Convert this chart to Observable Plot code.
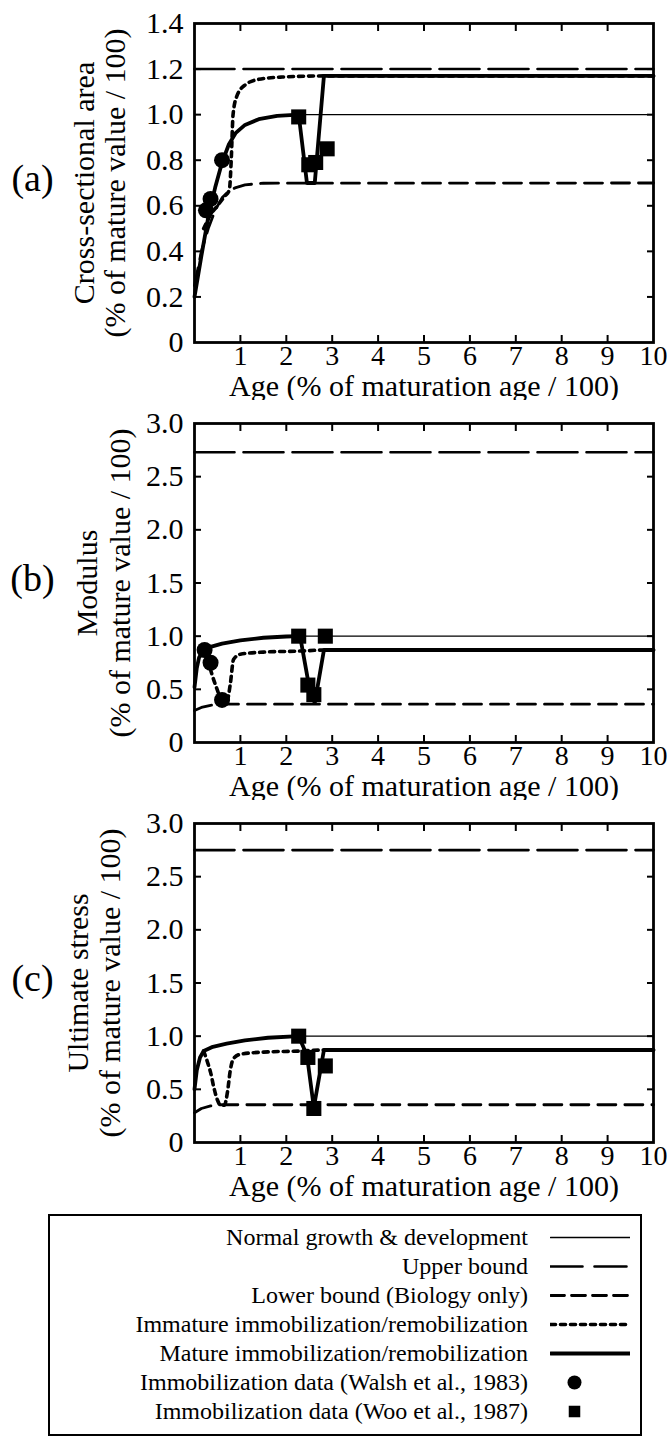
<!DOCTYPE html>
<html>
<head>
<meta charset="utf-8">
<script src="https://cdn.jsdelivr.net/npm/d3@7"></script>
<script src="https://cdn.jsdelivr.net/npm/@observablehq/plot@0.6"></script>
<style>
  html, body { margin: 0; padding: 0; background: #fff; }
  body { width: 667px; font-family: "Liberation Serif", "Times New Roman", serif; color: #000; }
  .panel { position: relative; width: 667px; height: 400px; }
  .panel svg { display: block; font-family: "Liberation Serif", serif; }
  #legend { position: relative; margin-left: 48px; margin-top: 14px; width: 594px; height: 222px; border: 2px solid #000; box-sizing: border-box; }
  .lrow { position: absolute; left: 0; width: 100%; height: 26px; }
  .lrow .lab { position: absolute; right: 112px; top: 0; font-size: 24px; line-height: 26px; white-space: nowrap; text-align: right; }
  .lrow svg { position: absolute; left: 500px; top: 0; }
</style>
</head>
<body>
<div id="chart"></div>
<div id="legend"></div>
<script>
// ---------- data ----------
const xTicks = [1, 2, 3, 4, 5, 6, 7, 8, 9];
const xTickLabels = [1, 2, 3, 4, 5, 6, 7, 8, 9, 10];
const ageTitle = "Age (% of maturation age / 100)";

// (a) Cross-sectional area
const aTicks = [0, 0.2, 0.4, 0.6, 0.8, 1.0, 1.2, 1.4];
const aNormalX = [0, 0.15, 0.3, 0.45, 0.6, 0.75, 0.9, 1.1, 1.4, 1.8, 2.27, 10];
const aNormalY = [0.2, 0.38, 0.55, 0.68, 0.79, 0.87, 0.92, 0.955, 0.98, 0.995, 1.0, 1.0];
const aUpperX = [0, 10];
const aUpperY = [1.2, 1.2];
const aLowerX = [0, 0.15, 0.3, 0.45, 0.6, 0.75, 0.9, 1.1, 1.5, 10];
const aLowerY = [0.25, 0.4, 0.5, 0.58, 0.635, 0.665, 0.68, 0.692, 0.699, 0.7];
const aImmX = [0.2, 0.35, 0.5, 0.65, 0.76, 0.8, 0.84, 0.92, 1.1, 1.4, 1.9, 2.85, 10];
const aImmY = [0.5, 0.56, 0.6, 0.64, 0.67, 0.8, 1.0, 1.08, 1.13, 1.155, 1.165, 1.17, 1.17];
const aMatX = [0, 0.15, 0.3, 0.45, 0.6, 0.75, 0.9, 1.1, 1.4, 1.8, 2.27, 2.45, 2.62, 2.82, 10];
const aMatY = [0.2, 0.38, 0.55, 0.68, 0.79, 0.87, 0.92, 0.955, 0.98, 0.995, 1.0, 0.7, 0.7, 1.17, 1.17];
const aWalshX = [0.25, 0.35, 0.6];
const aWalshY = [0.58, 0.63, 0.8];
const aWooX = [2.27, 2.49, 2.64, 2.89];
const aWooY = [0.99, 0.78, 0.79, 0.85];

// (b) Modulus
const bTicks = [0, 0.5, 1.0, 1.5, 2.0, 2.5, 3.0];
const bNormalX = [0, 0.05, 0.1, 0.2, 0.35, 0.6, 1.0, 1.5, 2.0, 2.3, 10];
const bNormalY = [0.52, 0.7, 0.8, 0.87, 0.9, 0.93, 0.96, 0.985, 0.997, 1.0, 1.0];
const bUpperX = [0, 10];
const bUpperY = [2.73, 2.73];
const bLowerX = [0, 0.15, 0.35, 0.6, 10];
const bLowerY = [0.3, 0.33, 0.35, 0.36, 0.36];
const bImmX = [0.2, 0.3, 0.45, 0.6, 0.7, 0.78, 0.85, 1.0, 1.5, 2.3, 2.85, 10];
const bImmY = [0.87, 0.75, 0.55, 0.4, 0.38, 0.55, 0.78, 0.83, 0.85, 0.86, 0.87, 0.87];
const bMatX = [0, 0.05, 0.1, 0.2, 0.35, 0.6, 1.0, 1.5, 2.0, 2.3, 2.5, 2.62, 2.82, 10];
const bMatY = [0.52, 0.7, 0.8, 0.87, 0.9, 0.93, 0.96, 0.985, 0.997, 1.0, 0.52, 0.37, 0.87, 0.87];
const bWalshX = [0.22, 0.35, 0.6];
const bWalshY = [0.87, 0.75, 0.4];
const bWooX = [2.27, 2.47, 2.6, 2.85];
const bWooY = [1.0, 0.54, 0.45, 1.0];

// (c) Ultimate stress
const cTicks = [0, 0.5, 1.0, 1.5, 2.0, 2.5, 3.0];
const cNormalX = [0, 0.05, 0.12, 0.2, 0.4, 0.7, 1.1, 1.6, 2.27, 10];
const cNormalY = [0.5, 0.68, 0.8, 0.86, 0.9, 0.93, 0.96, 0.985, 1.0, 1.0];
const cUpperX = [0, 10];
const cUpperY = [2.75, 2.75];
const cLowerX = [0, 0.15, 0.35, 0.6, 10];
const cLowerY = [0.28, 0.32, 0.345, 0.355, 0.355];
const cImmX = [0.2, 0.28, 0.35, 0.42, 0.5, 0.57, 0.65, 0.72, 0.78, 0.85, 1.0, 1.5, 2.3, 2.8, 10];
const cImmY = [0.86, 0.76, 0.66, 0.52, 0.4, 0.35, 0.35, 0.48, 0.68, 0.79, 0.83, 0.85, 0.86, 0.87, 0.87];
const cMatX = [0, 0.05, 0.12, 0.2, 0.4, 0.7, 1.1, 1.6, 2.27, 2.45, 2.6, 2.82, 10];
const cMatY = [0.5, 0.68, 0.8, 0.86, 0.9, 0.93, 0.96, 0.985, 1.0, 0.82, 0.33, 0.87, 0.87];
const cWooX = [2.27, 2.47, 2.6, 2.85];
const cWooY = [1.0, 0.8, 0.32, 0.72];

const legendLabels = [
  "Normal growth & development",
  "Upper bound",
  "Lower bound (Biology only)",
  "Immature immobilization/remobilization",
  "Mature immobilization/remobilization",
  "Immobilization data (Walsh et al., 1983)",
  "Immobilization data (Woo et al., 1987)"
];

// ---------- styles ----------
const FONT = "Liberation Serif, Times New Roman, serif";
const S = {
  normal: {strokeWidth: 1.3},
  upper: {strokeWidth: 2.6, strokeDasharray: "40,9"},
  lower: {strokeWidth: 2.8, strokeDasharray: "18,9"},
  imm: {strokeWidth: 3.6, strokeDasharray: "5,5"},
  mat: {strokeWidth: 3.8}
};

const zip = (xs, ys) => xs.map((x, i) => ({x, y: ys[i]}));

function panel(cfg) {
  const W = 667, H = 400;
  const T = {fontFamily: FONT, fill: "#000"};
  const marks = [
    Plot.line(zip(cfg.upperX, cfg.upperY), {x: "x", y: "y", stroke: "#000", ...S.upper}),
    Plot.line(zip(cfg.lowerX, cfg.lowerY), {x: "x", y: "y", stroke: "#000", ...S.lower}),
    Plot.line(zip(cfg.normalX, cfg.normalY), {x: "x", y: "y", stroke: "#000", ...S.normal}),
    Plot.line(zip(cfg.immX, cfg.immY), {x: "x", y: "y", stroke: "#000", curve: "monotone-x", ...S.imm}),
    Plot.line(zip(cfg.matX, cfg.matY), {x: "x", y: "y", stroke: "#000", strokeLinejoin: "round", ...S.mat}),
    cfg.walshX ? Plot.dot(zip(cfg.walshX, cfg.walshY), {x: "x", y: "y", r: 8, fill: "#000", stroke: "none"}) : null,
    Plot.dot(zip(cfg.wooX, cfg.wooY), {x: "x", y: "y", symbol: "square", r: 8.5, fill: "#000", stroke: "none"}),
    // axes: labels
    Plot.axisX(xTickLabels, {anchor: "bottom", tickSize: 0, tickPadding: 3, fontSize: 28, fontFamily: FONT, label: null, tickFormat: d => String(d), stroke: "none", fill: "#000"}),
    Plot.axisY(cfg.yTicks, {anchor: "left", tickSize: 0, tickPadding: 11, fontSize: 30, fontFamily: FONT, label: null, tickFormat: cfg.fmt, stroke: "none", fill: "#000"}),
    // inward ticks on all four sides
    Plot.axisX(xTicks, {anchor: "bottom", tickSize: -7, strokeWidth: 2, fill: "none", label: null}),
    Plot.axisX(xTicks, {anchor: "top", tickSize: -7, strokeWidth: 2, fill: "none", label: null}),
    Plot.axisY(cfg.yTicks.slice(1, -1), {anchor: "left", tickSize: -7, strokeWidth: 2, fill: "none", label: null}),
    Plot.axisY(cfg.yTicks.slice(1, -1), {anchor: "right", tickSize: -7, strokeWidth: 2, fill: "none", label: null}),
    Plot.frame({stroke: "#000", strokeWidth: 2.8}),
    // titles
    Plot.text([ageTitle], {frameAnchor: "bottom", dy: 53, fontSize: 30, textAnchor: "middle", text: d => d, ...T}),
    Plot.text([cfg.ylab1], {frameAnchor: "left", dx: -cfg.lx1, rotate: -90, textAnchor: "middle", fontSize: 30, text: d => d, ...T}),
    Plot.text([cfg.ylab2], {frameAnchor: "left", dx: -cfg.lx2, rotate: -90, textAnchor: "middle", fontSize: 30, text: d => d, ...T}),
    Plot.text([cfg.tag], {frameAnchor: "left", dx: -162, dy: -4, textAnchor: "middle", fontSize: 38, text: d => d, ...T})
  ].filter(Boolean);
  return Plot.plot({
    width: W, height: H,
    marginLeft: 194, marginRight: 14, marginTop: 23, marginBottom: 58,
    style: {fontFamily: FONT, color: "#000", background: "#fff", overflow: "visible"},
    x: {domain: [0, 10]},
    y: {domain: cfg.yDomain},
    marks
  });
}

const fmtA = d => d === 0 ? "0" : d.toFixed(1);
const chart = document.getElementById("chart");
const cfgs = [
  {tag: "(a)", ylab1: "Cross-sectional area", ylab2: "(% of mature value / 100)", lx1: 110, lx2: 79,
   yDomain: [0, 1.4], yTicks: aTicks, fmt: fmtA,
   normalX: aNormalX, normalY: aNormalY, upperX: aUpperX, upperY: aUpperY, lowerX: aLowerX, lowerY: aLowerY,
   immX: aImmX, immY: aImmY, matX: aMatX, matY: aMatY, walshX: aWalshX, walshY: aWalshY, wooX: aWooX, wooY: aWooY},
  {tag: "(b)", ylab1: "Modulus", ylab2: "(% of mature value / 100)", lx1: 107, lx2: 74,
   yDomain: [0, 3], yTicks: bTicks, fmt: fmtA,
   normalX: bNormalX, normalY: bNormalY, upperX: bUpperX, upperY: bUpperY, lowerX: bLowerX, lowerY: bLowerY,
   immX: bImmX, immY: bImmY, matX: bMatX, matY: bMatY, walshX: bWalshX, walshY: bWalshY, wooX: bWooX, wooY: bWooY},
  {tag: "(c)", ylab1: "Ultimate stress", ylab2: "(% of mature value / 100)", lx1: 116, lx2: 84,
   yDomain: [0, 3], yTicks: cTicks, fmt: fmtA,
   normalX: cNormalX, normalY: cNormalY, upperX: cUpperX, upperY: cUpperY, lowerX: cLowerX, lowerY: cLowerY,
   immX: cImmX, immY: cImmY, matX: cMatX, matY: cMatY, wooX: cWooX, wooY: cWooY}
];
for (const c of cfgs) {
  const div = document.createElement("div");
  div.className = "panel";
  div.appendChild(panel(c));
  chart.appendChild(div);
}

// ---------- legend ----------
const legend = document.getElementById("legend");
const sampleStyles = [S.normal, S.upper, S.lower, S.imm, S.mat, "circle", "square"];
legendLabels.forEach((lab, i) => {
  const row = document.createElement("div");
  row.className = "lrow";
  row.style.top = (8 + i * 29) + "px";
  const t = document.createElement("div");
  t.className = "lab";
  t.textContent = lab;
  row.appendChild(t);
  const st = sampleStyles[i];
  let sample;
  if (st === "circle" || st === "square") {
    sample = Plot.plot({
      width: 80, height: 26, margin: 0, x: {domain: [0, 1], axis: null}, y: {domain: [0, 1], axis: null},
      marks: [Plot.dot([{x: 0.3, y: 0.5}], {x: "x", y: "y", r: st === "circle" ? 7 : 6.5, symbol: st, fill: "#000"})]
    });
  } else {
    sample = Plot.plot({
      width: 80, height: 26, margin: 0, x: {domain: [0, 1], axis: null}, y: {domain: [0, 1], axis: null},
      marks: [Plot.line([{x: 0, y: 0.5}, {x: 1, y: 0.5}], {x: "x", y: "y", stroke: "#000", ...st, strokeDasharray: st === S.upper ? "32,12" : st === S.lower ? "14,7" : st.strokeDasharray})]
    });
  }
  row.appendChild(sample);
  legend.appendChild(row);
});
</script>
</body>
</html>
